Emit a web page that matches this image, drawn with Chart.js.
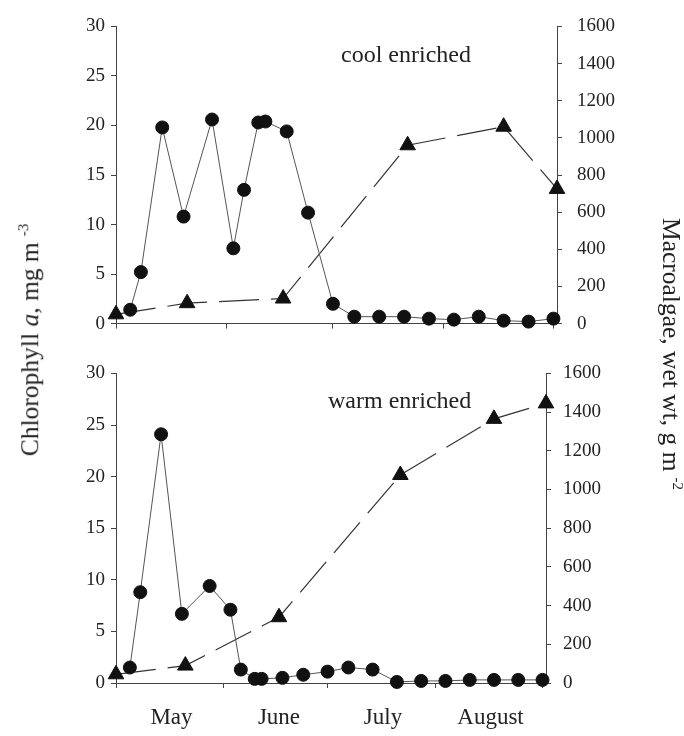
<!DOCTYPE html>
<html><head><meta charset="utf-8">
<script src="https://cdn.jsdelivr.net/npm/chart.js@4.4.1/dist/chart.umd.min.js"></script>
<style>
html,body{margin:0;padding:0;background:#fff;}
#wrap{position:relative;width:684px;height:736px;overflow:hidden;font-family:'Liberation Serif','DejaVu Serif',serif;color:#222;}
canvas{position:absolute;left:0;}
#c1{top:0;}
#c2{top:350px;}
.lbl{position:absolute;font-size:24px;line-height:24px;white-space:nowrap;}
.ttl{position:absolute;font-size:25.5px;line-height:26px;white-space:nowrap;transform-origin:center center;}
.ttl sup{font-size:15px;line-height:0;vertical-align:0.7em;margin-left:6px;}
</style></head>
<body>
<div id="wrap">
<canvas id="c1" width="684" height="350" style="width:684px;height:350px"></canvas>
<canvas id="c2" width="684" height="386" style="width:684px;height:386px"></canvas>
<div class="lbl" style="left:341px;top:42px;">cool enriched</div>
<div class="lbl" style="left:328px;top:388px;">warm enriched</div>
<div class="ttl" id="tl">Chlorophyll <i>a</i>, mg m<sup>-3</sup></div>
<div class="ttl" id="tr">Macroalgae, wet wt, g m<sup>-2</sup></div>
</div>
<script>
// Sampling days (days since 1 May)
const sampleDays = [4, 7, 13, 19, 27, 33, 36, 40, 42, 48, 54, 61, 67, 74, 81, 88, 95, 102, 109, 116, 123];
const coolChl = [1.4, 5.2, 19.8, 10.8, 20.6, 7.6, 13.5, 20.3, 20.4, 19.4, 11.2, 2.0, 0.7, 0.7, 0.7, 0.5, 0.4, 0.7, 0.3, 0.2, 0.5];
const warmChl = [1.5, 8.8, 24.1, 6.7, 9.4, 7.1, 1.3, 0.4, 0.4, 0.5, 0.8, 1.1, 1.5, 1.3, 0.1, 0.2, 0.2, 0.3, 0.3, 0.3, 0.3];
const algaeDays = [0, 20, 47, 82, 109, 124];
const coolAlgae = [50, 110, 135, 960, 1060, 725];
const warmAlgae = [45, 90, 340, 1075, 1365, 1445];
const monthLabels = ['May', 'June', 'July', 'August'];
const monthCenters = [16, 47, 77, 108];
const monthStarts = [0, 31, 61, 92, 123];
const chlMax = 30, chlStep = 5;
const algaeMax = 1600, algaeStep = 200;

const FONT = "'Liberation Serif', 'DejaVu Serif', serif";
const AX = '#444';

function makeChart(id, chl, algae, cfg) {
  const tickVals = cfg.showMonths ? monthStarts.concat(monthCenters).sort((a, b) => a - b) : monthStarts.slice();
  return new Chart(document.getElementById(id), {
    type: 'line',
    data: {
      datasets: [
        {
          data: sampleDays.map((d, i) => ({ x: d, y: chl[i] })),
          yAxisID: 'y',
          borderColor: '#555', borderWidth: 1, tension: 0,
          pointStyle: 'circle', pointRadius: 6.5, pointBorderWidth: 1,
          pointBackgroundColor: '#111', pointBorderColor: '#111', clip: false
        },
        {
          data: algaeDays.map((d, i) => ({ x: d, y: algae[i] })),
          yAxisID: 'y2',
          borderColor: '#333', borderWidth: 1.2, borderDash: [40, 12], tension: 0,
          pointStyle: 'triangle', pointRadius: 9, pointBorderWidth: 1,
          pointBackgroundColor: '#111', pointBorderColor: '#111', clip: false
        }
      ]
    },
    options: {
      responsive: false, animation: false, events: [],
      layout: { padding: { top: cfg.top, left: 0, right: 0, bottom: 0 } },
      plugins: { legend: { display: false }, tooltip: { enabled: false } },
      scales: {
        x: {
          type: 'linear', position: 'bottom', min: 0, max: 124,
          afterBuildTicks: s => { s.ticks = tickVals.map(v => ({ value: v })); },
          afterFit: s => { s.height = cfg.xH; },
          ticks: {
            autoSkip: false, maxRotation: 0, minRotation: 0, padding: 16,
            font: { family: FONT, size: 23 }, color: '#222',
            callback: v => { const i = monthCenters.indexOf(v); return (cfg.showMonths && i >= 0) ? monthLabels[i] : ''; }
          },
          grid: {
            drawOnChartArea: false, tickLength: 5, tickWidth: 1,
            tickColor: c => (c.tick && monthStarts.includes(c.tick.value)) ? AX : 'rgba(0,0,0,0)'
          },
          border: { display: true, color: AX, width: 1 }
        },
        y: {
          type: 'linear', position: 'left', min: 0, max: chlMax,
          afterFit: s => { s.width = 116; },
          ticks: { stepSize: chlStep, padding: 6, font: { family: FONT, size: 19 }, color: '#222',
            callback: v => String(v) },
          grid: { drawOnChartArea: false, tickLength: 5, tickColor: AX },
          border: { display: true, color: AX, width: 1 }
        },
        y2: {
          type: 'linear', position: 'right', min: 0, max: algaeMax,
          afterFit: s => { s.width = 684 - cfg.right; },
          ticks: { stepSize: algaeStep, padding: cfg.rpad, font: { family: FONT, size: 19 }, color: '#222',
            callback: v => String(v) },
          grid: { drawOnChartArea: false, tickLength: 5, tickColor: AX },
          border: { display: true, color: AX, width: 1 }
        }
      }
    }
  });
}

makeChart('c1', coolChl, coolAlgae, { top: 22, xH: 20, right: 557, rpad: 15, showMonths: false });
makeChart('c2', warmChl, warmAlgae, { top: 22, xH: 53, right: 546, rpad: 12, showMonths: true });

// axis titles, centred on the figure
function placeTitle(el, cx, cy, deg) {
  const w = el.offsetWidth, h = el.offsetHeight;
  el.style.left = (cx - w / 2) + 'px';
  el.style.top = (cy - h / 2) + 'px';
  el.style.transform = 'rotate(' + deg + 'deg)';
}
placeTitle(document.getElementById('tl'), 30, 340, -90);
placeTitle(document.getElementById('tr'), 671, 354, 90);
</script>
</body></html>
